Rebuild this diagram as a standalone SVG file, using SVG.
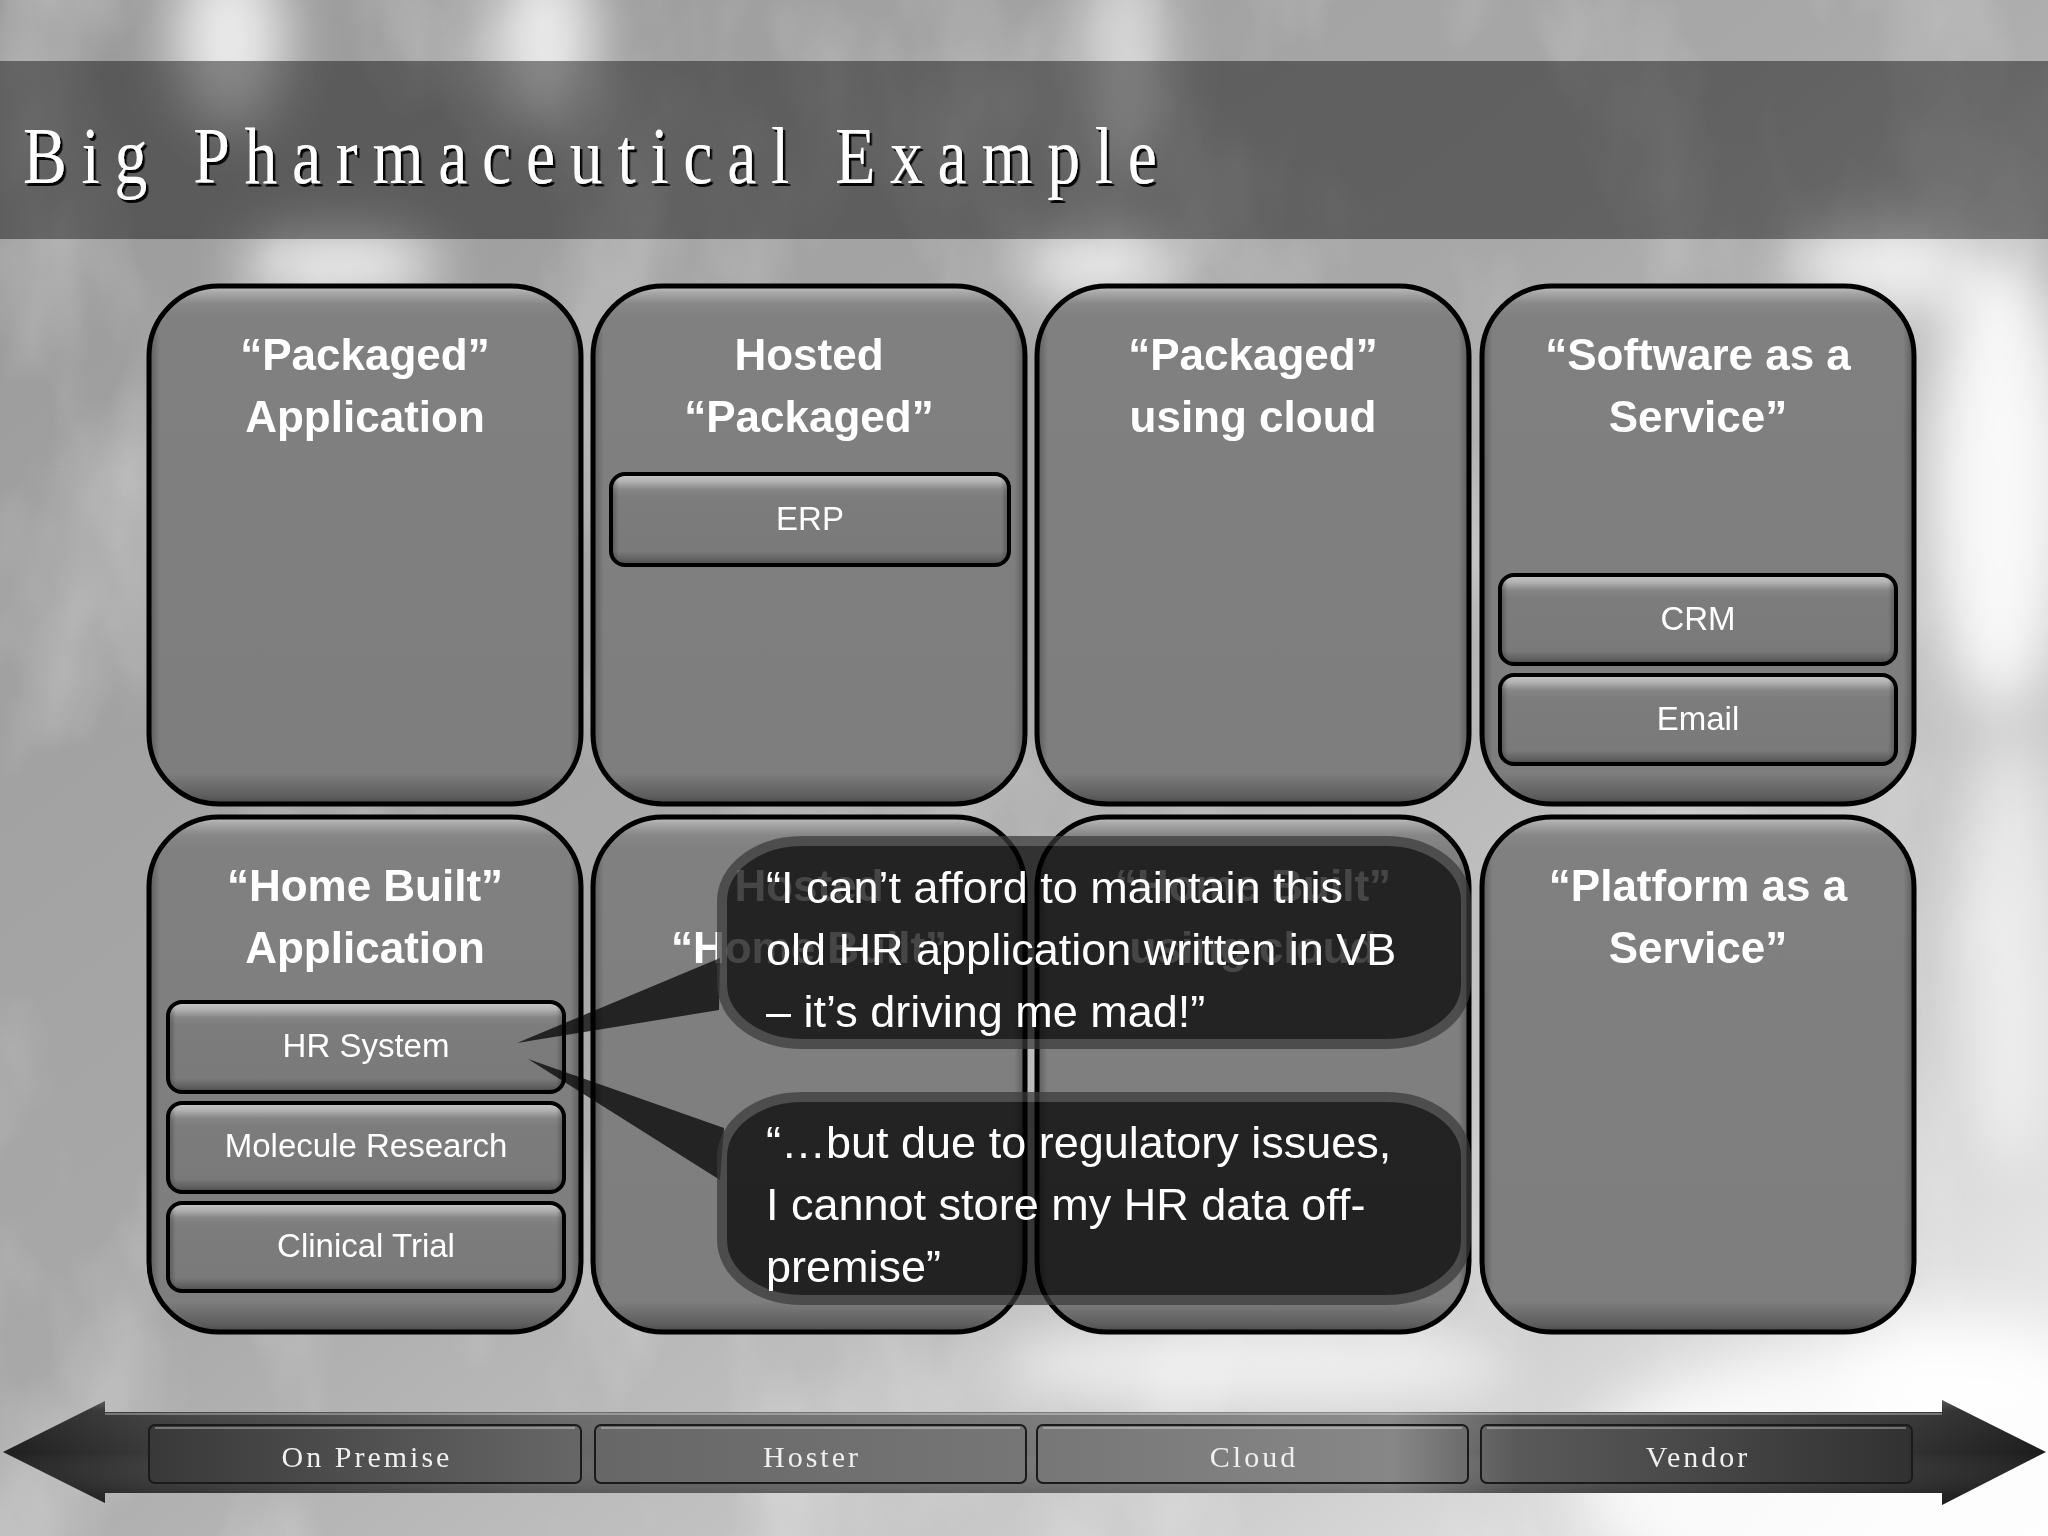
<svg xmlns="http://www.w3.org/2000/svg" width="2048" height="1536" viewBox="0 0 2048 1536">
<defs>
  <linearGradient id="bgGrad" x1="0" y1="0" x2="1" y2="1">
    <stop offset="0" stop-color="#9a9a9a"/>
    <stop offset="0.45" stop-color="#a8a8a8"/>
    <stop offset="0.8" stop-color="#cfcfcf"/>
    <stop offset="1" stop-color="#f6f6f6"/>
  </linearGradient>
  <filter id="cloudNoise" filterUnits="userSpaceOnUse" x="0" y="0" width="2048" height="1536">
    <feTurbulence type="fractalNoise" baseFrequency="0.006 0.003" numOctaves="4" seed="11"/>
    <feColorMatrix type="matrix" values="0 0 0 0 1  0 0 0 0 1  0 0 0 0 1  1.8 0 0 0 -0.85"/>
  </filter>
  <filter id="soft" x="-60%" y="-60%" width="220%" height="220%">
    <feGaussianBlur stdDeviation="28"/>
  </filter>
  <filter id="titleShadow" x="-5%" y="-20%" width="110%" height="140%">
    <feDropShadow dx="3" dy="3" stdDeviation="0.6" flood-color="#000" flood-opacity="0.95"/>
  </filter>
  <linearGradient id="boxGrad" x1="0" y1="0" x2="0" y2="1">
    <stop offset="0" stop-color="#c4c4c4"/>
    <stop offset="0.012" stop-color="#a9a9a9"/>
    <stop offset="0.035" stop-color="#878787"/>
    <stop offset="0.06" stop-color="#808080"/>
    <stop offset="0.94" stop-color="#7e7e7e"/>
    <stop offset="0.985" stop-color="#5e5e5e"/>
    <stop offset="1" stop-color="#484848"/>
  </linearGradient>
  <linearGradient id="boxSide" x1="0" y1="0" x2="1" y2="0">
    <stop offset="0" stop-color="#000" stop-opacity="0.3"/>
    <stop offset="0.025" stop-color="#000" stop-opacity="0"/>
    <stop offset="0.975" stop-color="#000" stop-opacity="0"/>
    <stop offset="1" stop-color="#000" stop-opacity="0.3"/>
  </linearGradient>
  <linearGradient id="subGrad" x1="0" y1="0" x2="0" y2="1">
    <stop offset="0" stop-color="#cacaca"/>
    <stop offset="0.08" stop-color="#b2b2b2"/>
    <stop offset="0.17" stop-color="#868686"/>
    <stop offset="0.26" stop-color="#7c7c7c"/>
    <stop offset="0.85" stop-color="#7a7a7a"/>
    <stop offset="0.95" stop-color="#5e5e5e"/>
    <stop offset="1" stop-color="#474747"/>
  </linearGradient>
  <linearGradient id="subSide" x1="0" y1="0" x2="1" y2="0">
    <stop offset="0" stop-color="#000" stop-opacity="0.3"/>
    <stop offset="0.02" stop-color="#000" stop-opacity="0"/>
    <stop offset="0.98" stop-color="#000" stop-opacity="0"/>
    <stop offset="1" stop-color="#000" stop-opacity="0.3"/>
  </linearGradient>
  <linearGradient id="arrowGrad" gradientUnits="userSpaceOnUse" x1="0" y1="0" x2="2048" y2="0">
    <stop offset="0" stop-color="#1e1e1e"/>
    <stop offset="0.07" stop-color="#383838"/>
    <stop offset="0.28" stop-color="#666666"/>
    <stop offset="0.5" stop-color="#767676"/>
    <stop offset="0.68" stop-color="#878787"/>
    <stop offset="0.74" stop-color="#5a5a5a"/>
    <stop offset="0.93" stop-color="#323232"/>
    <stop offset="1" stop-color="#1c1c1c"/>
  </linearGradient>
  <linearGradient id="arrowV" x1="0" y1="0" x2="0" y2="1">
    <stop offset="0" stop-color="#fff" stop-opacity="0.22"/>
    <stop offset="0.1" stop-color="#fff" stop-opacity="0.05"/>
    <stop offset="0.5" stop-color="#fff" stop-opacity="0"/>
    <stop offset="0.9" stop-color="#000" stop-opacity="0.15"/>
    <stop offset="1" stop-color="#000" stop-opacity="0.35"/>
  </linearGradient>
  <style>
    .box { fill: url(#boxGrad); stroke: #000; stroke-width: 5; }
    .boxShade { fill: url(#boxSide); stroke: none; }
    .sub { fill: url(#subGrad); stroke: #000; stroke-width: 4; }
    .subShade { fill: url(#subSide); stroke: none; }
    .hdr { font-family: "Liberation Sans", Arial, sans-serif; font-weight: bold; font-size: 44px; fill: #fff; text-anchor: middle; }
    .lbl { font-family: "Liberation Sans", Arial, sans-serif; font-size: 33px; fill: #fff; text-anchor: middle; }
    .say { font-family: "Liberation Sans", Arial, sans-serif; font-size: 45px; fill: #fff; }
    .axis { font-family: "Liberation Serif", "Times New Roman", serif; font-size: 30px; letter-spacing: 3px; fill: #f0f0f0; text-anchor: middle; }
    .seg { fill: url(#arrowGrad); stroke: #1a1a1a; stroke-width: 2; }
    .segHi { stroke: #ffffff; stroke-opacity: 0.3; stroke-width: 2; fill: none; }
    .bubble { fill: #000; stroke: #3a3a3a; stroke-width: 10; }
  </style>
</defs>

<!-- background sky -->
<g id="background">
  <rect x="0" y="0" width="2048" height="1536" fill="url(#bgGrad)"/>
  <rect x="0" y="0" width="2048" height="1536" filter="url(#cloudNoise)" opacity="0.4"/>
  <g fill="#fff" filter="url(#soft)">
    <ellipse cx="230" cy="40" rx="55" ry="90" opacity="0.8"/>
    <ellipse cx="545" cy="40" rx="50" ry="90" opacity="0.8"/>
    <ellipse cx="1130" cy="70" rx="35" ry="110" opacity="0.6"/>
    <ellipse cx="340" cy="265" rx="100" ry="35" opacity="0.85"/>
    <ellipse cx="1095" cy="265" rx="80" ry="35" opacity="0.85"/>
    <ellipse cx="1880" cy="265" rx="90" ry="40" opacity="0.8"/>
    <ellipse cx="2000" cy="480" rx="70" ry="230" opacity="0.9"/>
    <ellipse cx="2010" cy="950" rx="50" ry="220" opacity="0.6"/>
    <ellipse cx="1250" cy="1365" rx="260" ry="45" opacity="0.7"/>
    <ellipse cx="1900" cy="1480" rx="320" ry="140" opacity="0.8"/>
    <ellipse cx="1960" cy="1370" rx="120" ry="60" opacity="0.7"/>
  </g>
  <rect x="0" y="61" width="2048" height="178" fill="#000" opacity="0.42"/>
</g>

<!-- title -->
<g id="title">
  <text transform="translate(23,183) scale(0.82,1)" x="0" y="0" font-family="Liberation Serif, Times New Roman, serif" font-size="80" letter-spacing="18" fill="#ffffff" filter="url(#titleShadow)">Big Pharmaceutical Example</text>
</g>

<!-- top row -->
<g id="packaged-application">
  <rect class="box" x="149" y="286" width="432" height="518" rx="70" ry="70"/>
  <rect class="boxShade" x="149" y="286" width="432" height="518" rx="70" ry="70"/>
  <text class="hdr" x="365" y="370">“Packaged”</text>
  <text class="hdr" x="365" y="432">Application</text>
</g>
<g id="hosted-packaged">
  <rect class="box" x="593" y="286" width="432" height="518" rx="70" ry="70"/>
  <rect class="boxShade" x="593" y="286" width="432" height="518" rx="70" ry="70"/>
  <text class="hdr" x="809" y="370">Hosted</text>
  <text class="hdr" x="809" y="432">“Packaged”</text>
</g>
<g id="erp">
  <rect class="sub" x="611" y="474" width="398" height="91" rx="14" ry="14"/>
  <rect class="subShade" x="611" y="474" width="398" height="91" rx="14" ry="14"/>
  <text class="lbl" x="810" y="530">ERP</text>
</g>
<g id="packaged-using-cloud">
  <rect class="box" x="1037" y="286" width="432" height="518" rx="70" ry="70"/>
  <rect class="boxShade" x="1037" y="286" width="432" height="518" rx="70" ry="70"/>
  <text class="hdr" x="1253" y="370">“Packaged”</text>
  <text class="hdr" x="1253" y="432">using cloud</text>
</g>
<g id="software-as-a-service">
  <rect class="box" x="1482" y="286" width="432" height="518" rx="70" ry="70"/>
  <rect class="boxShade" x="1482" y="286" width="432" height="518" rx="70" ry="70"/>
  <text class="hdr" x="1698" y="370">“Software as a</text>
  <text class="hdr" x="1698" y="432">Service”</text>
</g>
<g id="crm">
  <rect class="sub" x="1500" y="575" width="396" height="89" rx="14" ry="14"/>
  <rect class="subShade" x="1500" y="575" width="396" height="89" rx="14" ry="14"/>
  <text class="lbl" x="1698" y="630">CRM</text>
</g>
<g id="email">
  <rect class="sub" x="1500" y="675" width="396" height="89" rx="14" ry="14"/>
  <rect class="subShade" x="1500" y="675" width="396" height="89" rx="14" ry="14"/>
  <text class="lbl" x="1698" y="730">Email</text>
</g>

<!-- bottom row -->
<g id="home-built-application">
  <rect class="box" x="149" y="817" width="432" height="515" rx="70" ry="70"/>
  <rect class="boxShade" x="149" y="817" width="432" height="515" rx="70" ry="70"/>
  <text class="hdr" x="365" y="901">“Home Built”</text>
  <text class="hdr" x="365" y="963">Application</text>
</g>
<g id="hr-system">
  <rect class="sub" x="168" y="1002" width="396" height="90" rx="14" ry="14"/>
  <rect class="subShade" x="168" y="1002" width="396" height="90" rx="14" ry="14"/>
  <text class="lbl" x="366" y="1057">HR System</text>
</g>
<g id="molecule-research">
  <rect class="sub" x="168" y="1103" width="396" height="89" rx="14" ry="14"/>
  <rect class="subShade" x="168" y="1103" width="396" height="89" rx="14" ry="14"/>
  <text class="lbl" x="366" y="1157">Molecule Research</text>
</g>
<g id="clinical-trial">
  <rect class="sub" x="168" y="1203" width="396" height="88" rx="14" ry="14"/>
  <rect class="subShade" x="168" y="1203" width="396" height="88" rx="14" ry="14"/>
  <text class="lbl" x="366" y="1257">Clinical Trial</text>
</g>
<g id="hosted-home-built">
  <rect class="box" x="593" y="817" width="432" height="515" rx="70" ry="70"/>
  <rect class="boxShade" x="593" y="817" width="432" height="515" rx="70" ry="70"/>
  <text class="hdr" x="809" y="901">Hosted</text>
  <text class="hdr" x="809" y="963">“Home Built”</text>
</g>
<g id="home-built-using-cloud">
  <rect class="box" x="1037" y="817" width="432" height="515" rx="70" ry="70"/>
  <rect class="boxShade" x="1037" y="817" width="432" height="515" rx="70" ry="70"/>
  <text class="hdr" x="1253" y="901">“Home Built”</text>
  <text class="hdr" x="1253" y="963">using cloud</text>
</g>
<g id="platform-as-a-service">
  <rect class="box" x="1482" y="817" width="432" height="515" rx="70" ry="70"/>
  <rect class="boxShade" x="1482" y="817" width="432" height="515" rx="70" ry="70"/>
  <text class="hdr" x="1698" y="901">“Platform as a</text>
  <text class="hdr" x="1698" y="963">Service”</text>
</g>

<!-- callout tails -->
<g id="connectors" fill="#000" opacity="0.72">
  <polygon points="517,1043 720,958 719,1010"/>
  <polygon points="528,1059 724,1128 720,1180"/>
</g>

<!-- callouts -->
<g id="callout-maintain">
  <g opacity="0.72"><rect class="bubble" x="722" y="841" width="744" height="203" rx="80" ry="60"/></g>
  <text class="say" x="766" y="903">“I can’t afford to maintain this</text>
  <text class="say" x="766" y="965">old HR application written in VB</text>
  <text class="say" x="766" y="1027">– it’s driving me mad!”</text>
</g>
<g id="callout-regulatory">
  <g opacity="0.72"><rect class="bubble" x="722" y="1097" width="744" height="203" rx="80" ry="60"/></g>
  <text class="say" x="766" y="1158">“…but due to regulatory issues,</text>
  <text class="say" x="766" y="1220">I cannot store my HR data off-</text>
  <text class="say" x="766" y="1282">premise”</text>
</g>

<!-- bottom axis arrow -->
<g id="axis-arrow">
  <path d="M3,1452 L105,1401 L105,1412 L1942,1412 L1942,1400 L2046,1452 L1942,1505 L1942,1493 L105,1493 L105,1503 Z" fill="url(#arrowGrad)"/>
  <path d="M3,1452 L105,1401 L105,1412 L1942,1412 L1942,1400 L2046,1452 L1942,1505 L1942,1493 L105,1493 L105,1503 Z" fill="url(#arrowV)"/>
  <line x1="105" y1="1414" x2="1942" y2="1414" stroke="#fff" stroke-opacity="0.3" stroke-width="2"/>
</g>
<g id="on-premise">
  <rect class="seg" x="149" y="1425" width="432" height="58" rx="6" ry="6"/>
  <line class="segHi" x1="155" y1="1428" x2="575" y2="1428"/>
  <text class="axis" x="367" y="1467">On Premise</text>
</g>
<g id="hoster">
  <rect class="seg" x="595" y="1425" width="431" height="58" rx="6" ry="6"/>
  <line class="segHi" x1="601" y1="1428" x2="1020" y2="1428"/>
  <text class="axis" x="812" y="1467">Hoster</text>
</g>
<g id="cloud">
  <rect class="seg" x="1037" y="1425" width="431" height="58" rx="6" ry="6"/>
  <line class="segHi" x1="1043" y1="1428" x2="1462" y2="1428"/>
  <text class="axis" x="1254" y="1467">Cloud</text>
</g>
<g id="vendor">
  <rect class="seg" x="1481" y="1425" width="431" height="58" rx="6" ry="6"/>
  <line class="segHi" x1="1487" y1="1428" x2="1906" y2="1428"/>
  <text class="axis" x="1698" y="1467">Vendor</text>
</g>
</svg>
